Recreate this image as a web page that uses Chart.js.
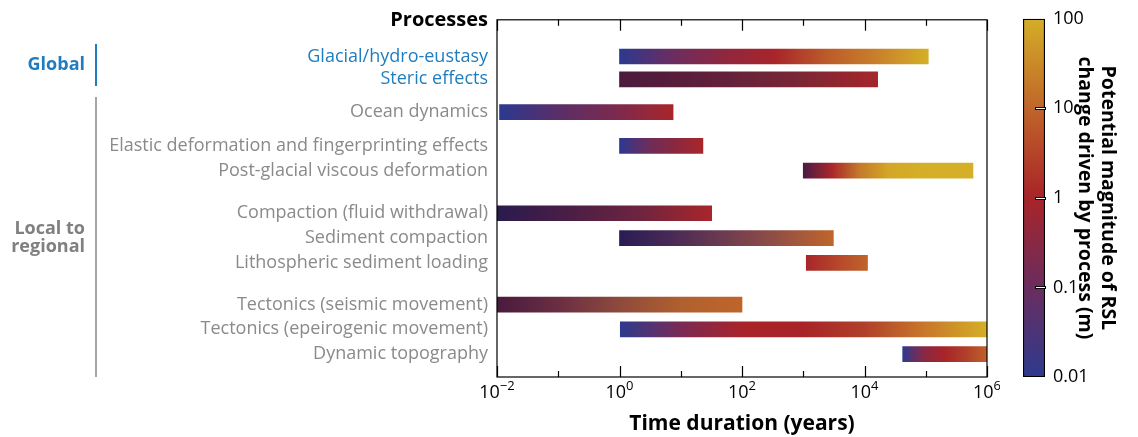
<!DOCTYPE html>
<html>
<head>
<meta charset="utf-8">
<script src="https://cdn.jsdelivr.net/npm/chart.js@4"></script>
<style>
  html, body { margin: 0; padding: 0; background: #fff; }
  body { width: 1138px; height: 437px; position: relative; overflow: hidden; }
  #main { position: absolute; left: 0; top: 0; }
  #cbar { position: absolute; left: 1000px; top: 0; }
</style>
</head>
<body>
<canvas id="main" width="1000" height="437"></canvas>
<canvas id="cbar" width="138" height="437"></canvas>
<script>
// processes, top to bottom
const processes = [
  "Glacial/hydro-eustasy",
  "Steric effects",
  "Ocean dynamics",
  "Elastic deformation and fingerprinting effects",
  "Post-glacial viscous deformation",
  "Compaction (fluid withdrawal)",
  "Sediment compaction",
  "Lithospheric sediment loading",
  "Tectonics (seismic movement)",
  "Tectonics (epeirogenic movement)",
  "Dynamic topography",
];
const scope = ["global", "global", "local", "local", "local", "local", "local", "local", "local", "local", "local"];
// time duration range in years
const startYears = [1, 1, 0.011, 1, 1000, 0.01, 1, 1120, 0.01, 1.03, 42000];
const endYears = [110000, 16400, 7.5, 23, 590000, 32, 3100, 11200, 100, 1000000, 1000000];
// row position on the vertical axis (gaps between groups)
const rowPos = [1.48, 2.4, 3.72, 5.08, 6.08, 7.8, 8.8, 9.8, 11.48, 12.48, 13.48];

const xTickExp = [-2, 0, 2, 4, 6];
const cbarTicks = [0.01, 0.1, 1, 10, 100];

// colour ramps along each bar (magnitude at short -> long duration)
const barStops = [
  ["#2b3990", "#6a2d62", "#8e2740", "#a8242a", "#bb5a2a", "#c9802a", "#d4af27"],
  ["#4b1a3d", "#5e1f3b", "#772637", "#a5262a"],
  ["#2c3990", "#5a2e68", "#7b2a4f", "#a8262a"],
  ["#2c3990", "#6b2d5c", "#8a283f", "#a8262a"],
  ["#4a1b47", "#a8262a", "#c57a2a", "#d3a628", "#d4ae27", "#d4af27", "#d4af27"],
  ["#2a1b4e", "#4a1e45", "#6e2440", "#a8262a"],
  ["#2a1b55", "#4a2a55", "#6e3c50", "#955045", "#c0652a"],
  ["#a8262a", "#b5462a", "#c0652a"],
  ["#4a1a3e", "#6a2e42", "#8e4a3c", "#b0602e", "#c0652a"],
  ["#2d3a8e", "#7a2a55", "#a82428", "#a82428", "#b0402a", "#c8782a", "#d4b027"],
  ["#2d3a8e", "#8a2845", "#a82428", "#b0402a", "#c0602a"],
];
const cbarColors = ["#2e3a8e", "#6a2d5e", "#a82428", "#c0652a", "#d4ae27"];

const BLUE = "#1f7dbf";
const GREY = "#8a8a8a";
const FONT = "'Open Sans', 'Noto Sans', sans-serif";

const frameAndLabels = {
  id: "frameAndLabels",
  afterDraw(chart) {
    const ctx = chart.ctx;
    const { left, right, top, bottom } = chart.chartArea;
    const xs = chart.scales.x;
    ctx.save();
    ctx.strokeStyle = "#000";
    ctx.lineWidth = 1.2;
    ctx.strokeRect(left, top, right - left, bottom - top);

    // inward decade ticks, top and bottom
    for (let d = -2; d <= 6; d++) {
      const x = Math.round(xs.getPixelForValue(Math.pow(10, d))) + 0.5;
      const len = d % 2 === 0 ? 11 : 6;
      ctx.beginPath();
      ctx.moveTo(x, top);
      ctx.lineTo(x, top + len);
      ctx.moveTo(x, bottom);
      ctx.lineTo(x, bottom - len);
      ctx.stroke();
    }

    // 10^n labels
    ctx.fillStyle = "#000";
    ctx.textBaseline = "alphabetic";
    xTickExp.forEach((e) => {
      const x = xs.getPixelForValue(Math.pow(10, e));
      const exp = e < 0 ? "\u2212" + Math.abs(e) : String(e);
      ctx.font = "18px " + FONT;
      const wb = ctx.measureText("10").width;
      ctx.font = "13px " + FONT;
      const we = ctx.measureText(exp).width;
      const x0 = x - (wb + we) / 2;
      ctx.font = "18px " + FONT;
      ctx.textAlign = "left";
      ctx.fillText("10", x0, 398);
      ctx.font = "13px " + FONT;
      ctx.fillText(exp, x0 + wb, 390);
    });

    // header and group labels
    ctx.textAlign = "right";
    ctx.font = "bold 20px " + FONT;
    ctx.fillText("Processes", 488, 26);

    ctx.font = "bold 18px " + FONT;
    ctx.fillStyle = BLUE;
    ctx.fillText("Global", 85, 70);
    ctx.fillStyle = "#808080";
    ctx.fillText("Local to", 85, 234);
    ctx.fillText("regional", 85, 252);

    ctx.lineWidth = 2;
    ctx.strokeStyle = BLUE;
    ctx.beginPath();
    ctx.moveTo(96, 44);
    ctx.lineTo(96, 86);
    ctx.stroke();
    ctx.strokeStyle = "#a6a6a6";
    ctx.beginPath();
    ctx.moveTo(96, 97);
    ctx.lineTo(96, 377);
    ctx.stroke();
    ctx.restore();
  },
};

new Chart(document.getElementById("main").getContext("2d"), {
  type: "bar",
  data: {
    datasets: [
      {
        data: processes.map((p, i) => ({ x: [startYears[i], endYears[i]], y: rowPos[i] })),
        barThickness: 15,
        borderWidth: 0,
        backgroundColor: (c) => {
          const chart = c.chart;
          if (!chart.chartArea || c.type !== "data") return "#a8262a";
          const i = c.dataIndex;
          const xs = chart.scales.x;
          const x0 = xs.getPixelForValue(startYears[i]);
          const x1 = xs.getPixelForValue(endYears[i]);
          const g = chart.ctx.createLinearGradient(x0, 0, x1, 0);
          const stops = barStops[i];
          stops.forEach((col, k) => g.addColorStop(k / (stops.length - 1), col));
          return g;
        },
      },
    ],
  },
  options: {
    indexAxis: "y",
    responsive: false,
    devicePixelRatio: 1,
    animation: false,
    layout: { padding: { top: 17, right: 13, left: 0, bottom: 0 } },
    plugins: { legend: { display: false }, tooltip: { enabled: false } },
    scales: {
      x: {
        type: "logarithmic",
        min: 0.01,
        max: 1e6,
        grid: { display: false },
        border: { display: false },
        ticks: { display: false },
        afterFit: (scale) => { scale.height = 60; },
        title: {
          display: true,
          text: "Time duration (years)",
          color: "#000",
          font: { family: FONT, size: 21, weight: "bold", lineHeight: 1.2 },
          padding: { top: 0, bottom: 0 },
        },
      },
      y: {
        type: "linear",
        reverse: true,
        offset: false,
        min: 0,
        max: 14.4,
        grid: { display: false, drawTicks: false, offset: false },
        border: { display: false },
        afterBuildTicks: (scale) => {
          scale.ticks = rowPos.map((v) => ({ value: v }));
        },
        afterFit: (scale) => { scale.width = 497; },
        ticks: {
          autoSkip: false,
          padding: 9,
          font: { family: FONT, size: 18 },
          color: (c) => (scope[c.index] === "global" ? BLUE : GREY),
          callback: (value, index) => processes[index],
        },
      },
    },
  },
  plugins: [frameAndLabels],
});

// colour bar
const cbarTickMarks = {
  id: "cbarTickMarks",
  afterDraw(chart) {
    const ctx = chart.ctx;
    const ys = chart.scales.y;
    const right = chart.chartArea.right;
    ctx.save();
    [0.1, 1, 10].forEach((v) => {
      const y = Math.round(ys.getPixelForValue(v)) + 0.5;
      ctx.strokeStyle = "#000";
      ctx.lineWidth = 3;
      ctx.beginPath();
      ctx.moveTo(right - 10, y);
      ctx.lineTo(right + 1, y);
      ctx.stroke();
      ctx.strokeStyle = "#fff";
      ctx.lineWidth = 1;
      ctx.beginPath();
      ctx.moveTo(right - 9, y);
      ctx.lineTo(right, y);
      ctx.stroke();
    });
    ctx.restore();
  },
};

new Chart(document.getElementById("cbar").getContext("2d"), {
  type: "bar",
  data: {
    labels: ["m"],
    datasets: [
      {
        data: [[cbarTicks[0], cbarTicks[cbarTicks.length - 1]]],
        barPercentage: 1,
        categoryPercentage: 1,
        borderWidth: 1.5,
        borderColor: "#000",
        borderSkipped: false,
        backgroundColor: (c) => {
          const chart = c.chart;
          if (!chart.chartArea) return "#a82428";
          const { top, bottom } = chart.chartArea;
          const g = chart.ctx.createLinearGradient(0, bottom, 0, top);
          cbarColors.forEach((col, k) => g.addColorStop(k / (cbarColors.length - 1), col));
          return g;
        },
      },
    ],
  },
  options: {
    responsive: false,
    devicePixelRatio: 1,
    animation: false,
    layout: { padding: { top: 18, right: 0, left: 23, bottom: 60 } },
    plugins: { legend: { display: false }, tooltip: { enabled: false } },
    scales: {
      x: { display: false },
      y: {
        type: "logarithmic",
        position: "right",
        min: 0.01,
        max: 100,
        grid: { display: false, drawTicks: false },
        border: { display: false },
        afterBuildTicks: (scale) => {
          scale.ticks = cbarTicks.map((v) => ({ value: v }));
        },
        afterFit: (scale) => { scale.width = 93; },
        ticks: {
          padding: 8,
          color: "#000",
          font: { family: FONT, size: 18 },
          callback: (value) => String(value),
        },
        title: {
          display: true,
          text: ["Potential magnitude of RSL", "change driven by process (m)"],
          color: "#000",
          font: { family: FONT, size: 19.5, weight: "bold", lineHeight: 1.18 },
          padding: { top: 19, bottom: 0 },
        },
      },
    },
  },
  plugins: [cbarTickMarks],
});
</script>
</body>
</html>
